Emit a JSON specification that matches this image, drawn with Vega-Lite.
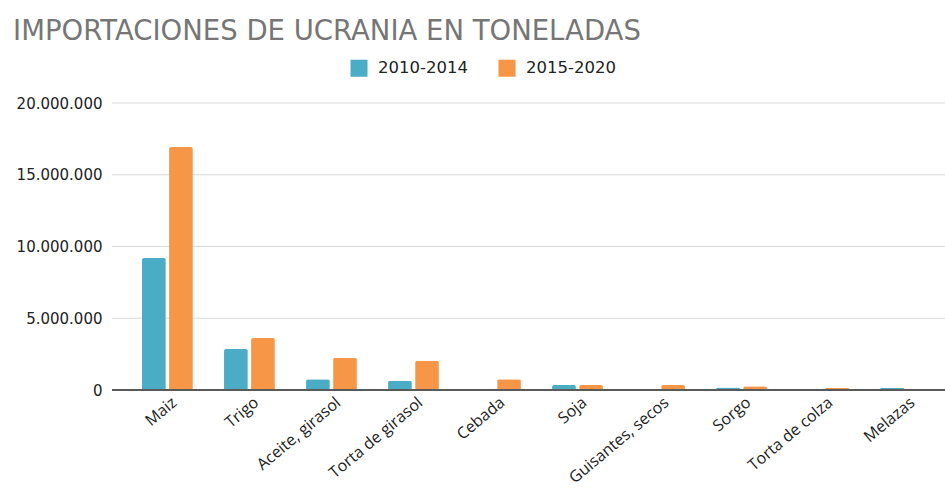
{
  "$schema": "https://vega.github.io/schema/vega-lite/v6.json",
  "width": 833,
  "height": 287,
  "autosize": {"type": "none"},
  "padding": {"left": 112, "top": 103, "right": 0, "bottom": 101},
  "background": "white",
  "title": {
    "text": "IMPORTACIONES  DE UCRANIA EN TONELADAS",
    "anchor": "start",
    "frame": "bounds",
    "dx": -3,
    "fontSize": 27.5,
    "font": "DejaVu Sans",
    "fontWeight": "normal",
    "color": "#767676",
    "offset": 14
  },
  "layer": [
    {
      "data": {"values": [{"v": 5000000}, {"v": 10000000}, {"v": 15000000}, {"v": 20000000}]},
      "mark": {"type": "rule", "color": "#d9d9d9", "strokeWidth": 1.2},
      "encoding": {"y": {"field": "v", "type": "quantitative"}}
    },
    {
      "data": {
        "values": [
          {"producto": "Maiz", "periodo": "2010-2014", "toneladas": 9200000},
          {"producto": "Maiz", "periodo": "2015-2020", "toneladas": 16930000},
          {"producto": "Trigo", "periodo": "2010-2014", "toneladas": 2850000},
          {"producto": "Trigo", "periodo": "2015-2020", "toneladas": 3620000},
          {"producto": "Aceite, girasol", "periodo": "2010-2014", "toneladas": 750000},
          {"producto": "Aceite, girasol", "periodo": "2015-2020", "toneladas": 2250000},
          {"producto": "Torta de girasol", "periodo": "2010-2014", "toneladas": 650000},
          {"producto": "Torta de girasol", "periodo": "2015-2020", "toneladas": 2040000},
          {"producto": "Cebada", "periodo": "2010-2014", "toneladas": 5000},
          {"producto": "Cebada", "periodo": "2015-2020", "toneladas": 750000},
          {"producto": "Soja", "periodo": "2010-2014", "toneladas": 350000},
          {"producto": "Soja", "periodo": "2015-2020", "toneladas": 340000},
          {"producto": "Guisantes, secos", "periodo": "2010-2014", "toneladas": 30000},
          {"producto": "Guisantes, secos", "periodo": "2015-2020", "toneladas": 350000},
          {"producto": "Sorgo", "periodo": "2010-2014", "toneladas": 170000},
          {"producto": "Sorgo", "periodo": "2015-2020", "toneladas": 260000},
          {"producto": "Torta de colza", "periodo": "2010-2014", "toneladas": 40000},
          {"producto": "Torta de colza", "periodo": "2015-2020", "toneladas": 140000},
          {"producto": "Melazas", "periodo": "2010-2014", "toneladas": 160000},
          {"producto": "Melazas", "periodo": "2015-2020", "toneladas": 40000}
        ]
      },
      "mark": {"type": "bar", "cornerRadiusTopLeft": 2, "cornerRadiusTopRight": 2},
      "encoding": {
        "x": {
          "field": "producto",
          "type": "nominal",
          "sort": null,
          "scale": {"paddingInner": 0.38, "paddingOuter": 0, "range": [30, 819]},
          "axis": {
            "title": null,
            "labelAngle": -40,
            "labelAlign": "right",
            "labelBaseline": "middle",
            "labelFont": "Open Sans",
            "labelFontSize": 16,
            "labelColor": "#222222",
            "labelPadding": 10,
            "labelOffset": 7,
            "ticks": false,
            "domain": false,
            "grid": false
          }
        },
        "xOffset": {"field": "periodo", "type": "nominal", "scale": {"paddingInner": 0.12}},
        "y": {
          "field": "toneladas",
          "type": "quantitative",
          "scale": {"domain": [0, 20000000]},
          "axis": {
            "title": null,
            "values": [0, 5000000, 10000000, 15000000, 20000000],
            "labelExpr": "replace(format(datum.value, ',d'), /,/g, '.')",
            "labelFont": "DejaVu Sans",
            "labelFontSize": 15,
            "labelColor": "#222222",
            "labelPadding": 10,
            "ticks": false,
            "domain": false,
            "grid": false
          }
        },
        "color": {
          "field": "periodo",
          "type": "nominal",
          "scale": {"domain": ["2010-2014", "2015-2020"], "range": ["#4BACC6", "#F79646"]},
          "legend": {
            "title": null,
            "orient": "none",
            "direction": "horizontal",
            "legendX": 238,
            "legendY": -44,
            "symbolType": "square",
            "symbolSize": 290,
            "symbolStrokeWidth": 0,
            "labelFont": "DejaVu Sans",
            "labelFontSize": 16.5,
            "labelColor": "#222222",
            "labelOffset": 10,
            "columnPadding": 30
          }
        }
      }
    },
    {
      "data": {"values": [{"v": 0}]},
      "mark": {"type": "rule", "color": "#5a5a5a", "strokeWidth": 2},
      "encoding": {"y": {"field": "v", "type": "quantitative"}}
    }
  ],
  "config": {"view": {"stroke": null}}
}
